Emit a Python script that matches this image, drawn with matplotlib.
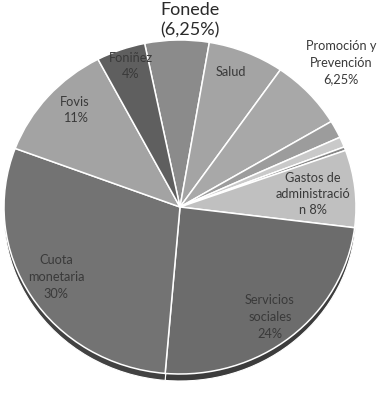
import matplotlib.pyplot as plt

# datos del gráfico (porcentajes)
categorias = ['Fonede', 'Salud', 'Promoción y Prevención', 'Otro 1', 'Otro 2',
              'Otro 3', 'Gastos de administración', 'Servicios sociales',
              'Cuota monetaria', 'Fovis', 'Foniñez']
valores = [5.9, 7.0, 6.8, 1.7, 1.0, 0.35, 7.5, 24.4, 29.4, 11.6, 4.5]
colores = ['#8b8b8b', '#a4a4a4', '#a8a8a8', '#9c9c9c', '#c9c9c9', '#878787',
           '#c0c0c0', '#6c6c6c', '#737373', '#a3a3a3', '#5f5f5f']
colores_borde = ['#555555', '#606060', '#626262', '#5e5e5e', '#707070',
                 '#555555', '#6a6a6a', '#3c3c3c', '#424242', '#606060',
                 '#3a3a3a']

# etiquetas: (texto, x px, y px)
etiquetas = [
    ('Salud', 231, 72),
    ('Foniñez\n4%', 131, 66),
    ('Fovis\n11%', 75, 110),
    ('Promoción y\nPrevención\n6,25%', 341, 63),
    ('Gastos de\nadministració\nn 8%', 313, 194),
    ('Cuota\nmonetaria\n30%', 56, 277),
    ('Servicios\nsociales\n24%', 270, 317),
]

W, H = 382, 394
rx, ry = 176, 167
escala = ry / rx
cx, cy = 180, 207

fig = plt.figure(figsize=(W / 100, H / 100), dpi=100)
ax = fig.add_axes([0, 0, 1, 1])

# canto inferior (efecto 3D)
ax.pie(valores, colors=colores_borde, startangle=101.6, counterclock=False,
       radius=rx, center=(cx, (H - cy - 7) / escala),
       wedgeprops={'linewidth': 0.8, 'edgecolor': 'white'})
# cara superior
ax.pie(valores, colors=colores, startangle=101.6, counterclock=False,
       radius=rx, center=(cx, (H - cy) / escala),
       wedgeprops={'linewidth': 1.1, 'edgecolor': 'white'})
ax.set_xlim(0, W)
ax.set_ylim(0, H / escala)
ax.set_aspect('auto')
ax.axis('off')

for texto, x, y in etiquetas:
    fig.text(x / W, 1 - y / H, texto, ha='center', va='center',
             fontsize=9.2, color='#3a3a3a', family='Lato', linespacing=1.45)

fig.text(190 / W, 1 - 20 / H, 'Fonede\n(6,25%)', ha='center', va='center',
         fontsize=13, color='#2a2a2a', family='Lato', linespacing=1.3)

plt.savefig('out.png', dpi=100)
